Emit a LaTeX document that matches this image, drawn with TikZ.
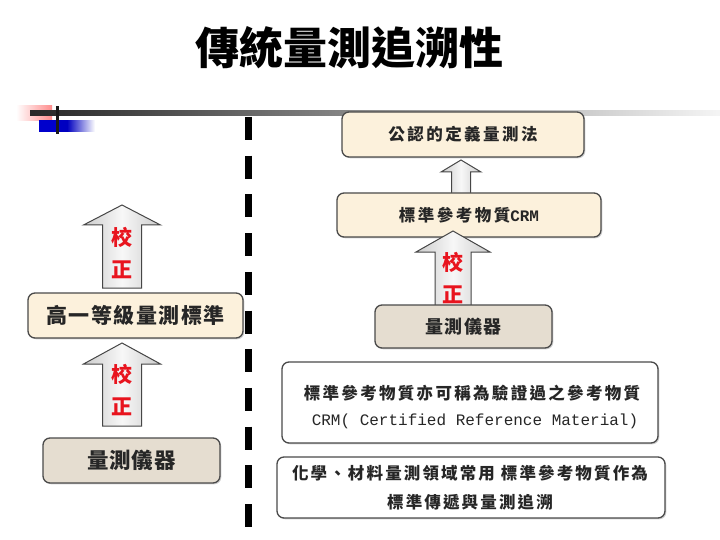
\documentclass[tikz,border=0pt]{standalone}
\usepackage{fontspec}
\setmainfont{Noto Sans CJK TC}
\newfontfamily\monof{Liberation Mono}
\usetikzlibrary{shadows,calc}
\definecolor{beige}{HTML}{FCF1DC}
\definecolor{grayb}{HTML}{E5DDD0}
\definecolor{edgec}{HTML}{4A4A4A}
\definecolor{redt}{HTML}{E8141E}
\newcommand{\blockarrow}[5]{%
  \path[arrowfill] let \p1=(#1), \p2=(#2) in
    (\x1,\y1) -- ({\x1+#3pt},{\y1-#5pt}) -- ({\x1+#4pt},{\y1-#5pt}) --
    ({\x1+#4pt},\y2) -- ({\x1-#4pt},\y2) -- ({\x1-#4pt},{\y1-#5pt}) --
    ({\x1-#3pt},{\y1-#5pt}) -- cycle;}
\newcommand{\fs}[2]{\fontsize{#1}{#2}\selectfont}
\begin{document}
\begin{tikzpicture}[x=1pt,y=-1pt,
  box/.style={draw=edgec, line width=1.3pt, rounded corners=7pt,
    drop shadow={shadow xshift=1.3pt, shadow yshift=-1.3pt, opacity=0.35},
    inner sep=0pt, align=center},
  beigebox/.style={box, fill=beige},
  graybox/.style={box, fill=grayb},
  whitebox/.style={box, fill=white},
  arrowfill/.style={draw=gray!55!black, line width=1pt,
    left color=gray!40, right color=gray!40, middle color=gray!6},
  arrowtext/.style={text=redt, font=\fs{21}{32}\bfseries, align=center, inner sep=0pt},
  txt/.style={inner sep=0pt, align=center, text=black!85}]
\useasboundingbox (0,0) rectangle (720,540);
\fill[white] (0,0) rectangle (720,540);
% template decoration
\shade[left color=white, right color=red!45] (16,106) rectangle (52,121);
\shade[left color=blue!80!black, right color=white, middle color=blue!75!black] (39,121) rectangle (95,132);
\fill[blue!80!black] (39,121) rectangle (60,132);
\shade[left color=black!85, right color=gray!8] (30,111) rectangle (720,116);
\fill[black!90] (56,106) rectangle (59,134);
% title
\node[txt, text=black] (title) at (349,48) {\fs{44}{44}\bfseries 傳統量測追溯性};
% dashed divider
\coordinate (d1) at (248.5,117);
\coordinate (d2) at (248.5,527);
\draw[line width=7pt, dash pattern=on 23pt off 15.7pt] (d1) -- (d2);
% left column
\coordinate (a1t) at (122,205); \coordinate (a1b) at (122,288);
\coordinate (a2t) at (122,343); \coordinate (a2b) at (122,426);
\blockarrow{a1t}{a1b}{38.5}{19.5}{20}
\blockarrow{a2t}{a2b}{38.5}{19.5}{21}
\node[arrowtext] (k1) at (122,253) {校\\正};
\node[arrowtext] (k2) at (122,390) {校\\正};
\node[beigebox, minimum width=215pt, minimum height=45pt, text=black!85] (L1) at (135.5,315.5)
  {\fs{21}{21}\bfseries\addfontfeatures{LetterSpace=7}高一等級量測標準};
\node[graybox, minimum width=177pt, minimum height=45pt, text=black!85] (L2) at (131.5,460.5)
  {\fs{21.5}{21.5}\bfseries\addfontfeatures{LetterSpace=4}量測儀器};
% right column
\coordinate (a3t) at (461,160); \coordinate (a3b) at (461,197);
\blockarrow{a3t}{a3b}{20}{9.5}{12}
\node[beigebox, minimum width=242pt, minimum height=45pt, text=black!85] (B1) at (463,134.5)
  {\fs{16.5}{16.5}\bfseries\addfontfeatures{LetterSpace=15}公認的定義量測法};
\node[beigebox, minimum width=264pt, minimum height=44pt, text=black!85] (B2) at (469,215)
  {\fs{16.5}{16.5}\bfseries\addfontfeatures{LetterSpace=15}標準參考物質\monof\bfseries\fs{16}{16}CRM};
\coordinate (a4t) at (453,231); \coordinate (a4b) at (453,312);
\blockarrow{a4t}{a4b}{37}{18}{21}
\node[arrowtext] (k3) at (453,278) {校\\正};
\node[graybox, minimum width=177pt, minimum height=43pt, text=black!85] (B3) at (463.5,326.5)
  {\fs{18}{18}\bfseries\addfontfeatures{LetterSpace=7}量測儀器};
\node[whitebox, minimum width=376pt, minimum height=81pt] (B4) at (470,402.5) {};
\node[txt] (B4a) at (472,393) {\fs{16.5}{16.5}\bfseries\addfontfeatures{LetterSpace=14}標準參考物質亦可稱為驗證過之參考物質};
\node[txt] (B4b) at (475,421) {\monof\fs{16}{16}CRM( Certified Reference Material)};
\node[whitebox, minimum width=388pt, minimum height=61pt] (B5) at (471,487.5) {};
\node[txt] (B5a) at (470,473) {\fs{16.5}{16.5}\bfseries\addfontfeatures{LetterSpace=13}化學、材料量測領域常用 標準參考物質作為};
\node[txt] (B5b) at (470,502) {\fs{16.5}{16.5}\bfseries\addfontfeatures{LetterSpace=13}標準傳遞與量測追溯};
\end{tikzpicture}
\end{document}
